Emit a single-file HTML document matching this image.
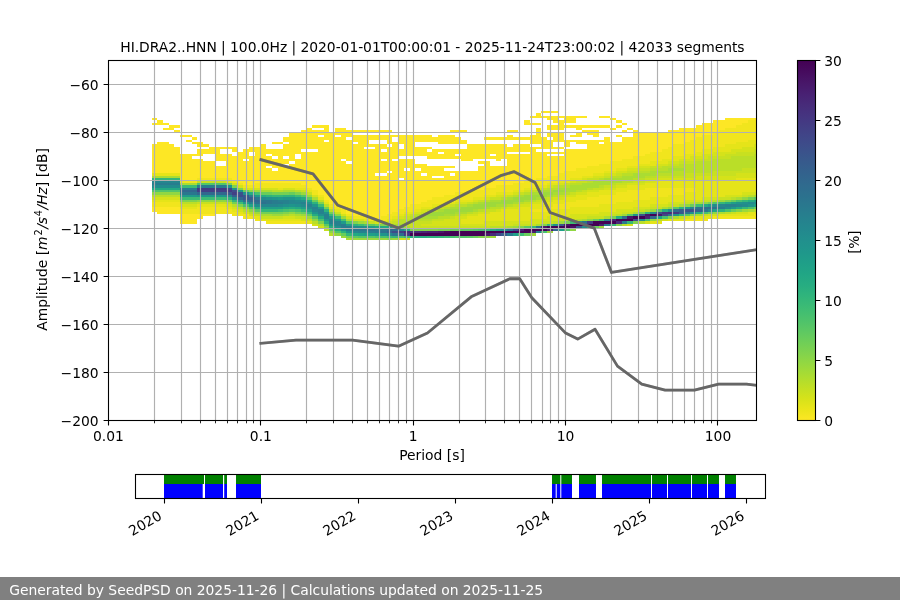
<!DOCTYPE html>
<html><head><meta charset="utf-8"><title>PPSD</title><style>html,body{margin:0;padding:0;background:#fff;overflow:hidden}body{width:900px;height:600px;position:relative}</style></head><body>
<svg width="900" height="600" viewBox="0 0 900 600" style="position:absolute;left:0;top:0;font-family:'DejaVu Sans','Liberation Sans',sans-serif;font-size:13.89px" fill="#000">
<rect width="900" height="600" fill="#fff"/>
<defs><clipPath id="c"><rect x="108.5" y="60.5" width="648" height="360"/></clipPath>
<linearGradient id="cb" x1="0" y1="0" x2="0" y2="1"><stop offset="0" stop-color="#440154"/><stop offset="0.03125" stop-color="#460b5e"/><stop offset="0.0625" stop-color="#481769"/><stop offset="0.09375" stop-color="#482173"/><stop offset="0.125" stop-color="#472c7a"/><stop offset="0.15625" stop-color="#453581"/><stop offset="0.1875" stop-color="#423f85"/><stop offset="0.21875" stop-color="#3f4889"/><stop offset="0.25" stop-color="#3b518b"/><stop offset="0.28125" stop-color="#375a8c"/><stop offset="0.3125" stop-color="#33628d"/><stop offset="0.34375" stop-color="#306a8e"/><stop offset="0.375" stop-color="#2c718e"/><stop offset="0.40625" stop-color="#29798e"/><stop offset="0.4375" stop-color="#26818e"/><stop offset="0.46875" stop-color="#23888e"/><stop offset="0.5" stop-color="#21908d"/><stop offset="0.53125" stop-color="#1f978b"/><stop offset="0.5625" stop-color="#1f9f88"/><stop offset="0.59375" stop-color="#21a685"/><stop offset="0.625" stop-color="#27ad81"/><stop offset="0.65625" stop-color="#31b57b"/><stop offset="0.6875" stop-color="#3dbc74"/><stop offset="0.71875" stop-color="#4cc26c"/><stop offset="0.75" stop-color="#5cc863"/><stop offset="0.78125" stop-color="#6ece58"/><stop offset="0.8125" stop-color="#81d34d"/><stop offset="0.84375" stop-color="#95d840"/><stop offset="0.875" stop-color="#aadc32"/><stop offset="0.90625" stop-color="#c0df25"/><stop offset="0.9375" stop-color="#d5e21a"/><stop offset="0.96875" stop-color="#eae51a"/><stop offset="1" stop-color="#fde725"/></linearGradient></defs>
<g clip-path="url(#c)" shape-rendering="crispEdges"><path fill="#fde725" d="M152 118h5v2h-5zM152 123h5v2h-5zM152 144h5v29h-5zM152 207h5v5h-5zM157 120h6v5h-6zM157 142h6v31h-6zM157 207h6v7h-6zM163 123h6v2h-6zM163 128h6v2h-6zM163 142h6v31h-6zM163 207h6v7h-6zM169 125h5v5h-5zM169 144h5v29h-5zM169 207h5v7h-5zM174 125h6v3h-6zM174 130h6v2h-6zM174 147h6v26h-6zM174 207h6v7h-6zM180 135h6v2h-6zM180 154h6v26h-6zM180 214h6v10h-6zM186 135h6v2h-6zM186 140h6v2h-6zM186 154h6v26h-6zM186 214h6v10h-6zM192 137h5v3h-5zM192 142h5v2h-5zM192 154h5v2h-5zM192 159h5v21h-5zM192 214h5v10h-5zM197 142h6v5h-6zM197 149h6v7h-6zM197 159h6v19h-6zM197 214h6v5h-6zM203 144h6v3h-6zM203 149h6v5h-6zM203 161h6v17h-6zM203 214h6v2h-6zM209 147h6v7h-6zM209 161h6v17h-6zM209 214h6v2h-6zM215 147h5v14h-5zM215 166h5v12h-5zM220 147h6v2h-6zM220 154h6v7h-6zM220 166h6v12h-6zM226 147h6v2h-6zM226 154h6v24h-6zM232 147h6v5h-6zM232 156h6v24h-6zM238 152h5v31h-5zM243 149h6v10h-6zM243 161h6v24h-6zM249 147h6v5h-6zM249 156h6v29h-6zM255 147h5v36h-5zM260 144h6v39h-6zM266 149h6v5h-6zM266 156h6v10h-6zM266 168h6v15h-6zM272 142h6v2h-6zM272 149h6v7h-6zM272 159h6v9h-6zM272 171h6v12h-6zM278 142h5v2h-5zM278 149h5v34h-5zM283 137h6v5h-6zM283 144h6v12h-6zM283 159h6v5h-6zM283 166h6v17h-6zM289 132h6v29h-6zM289 164h6v19h-6zM295 132h6v22h-6zM295 159h6v24h-6zM301 130h5v19h-5zM301 152h5v33h-5zM306 128h6v21h-6zM306 152h6v36h-6zM312 125h6v3h-6zM312 130h6v19h-6zM312 152h6v38h-6zM318 125h6v3h-6zM318 130h6v5h-6zM318 137h6v58h-6zM324 125h5v15h-5zM324 142h5v58h-5zM329 132h6v72h-6zM335 128h6v7h-6zM335 137h6v70h-6zM341 128h5v31h-5zM341 161h5v48h-5zM346 130h6v7h-6zM346 140h6v21h-6zM346 164h6v50h-6zM352 130h6v2h-6zM352 135h6v7h-6zM352 144h6v72h-6zM358 130h6v2h-6zM358 135h6v81h-6zM364 130h5v2h-5zM364 135h5v12h-5zM364 149h5v67h-5zM369 130h6v2h-6zM369 135h6v5h-6zM369 144h6v3h-6zM369 149h6v70h-6zM375 130h6v2h-6zM375 135h6v5h-6zM375 144h6v29h-6zM375 176h6v43h-6zM381 130h6v2h-6zM381 135h6v5h-6zM381 144h6v5h-6zM381 152h6v7h-6zM381 161h6v12h-6zM381 176h6v40h-6zM387 130h5v2h-5zM387 135h5v9h-5zM387 147h5v24h-5zM387 173h5v41h-5zM392 135h6v2h-6zM392 142h6v17h-6zM392 161h6v51h-6zM398 135h6v9h-6zM398 149h6v7h-6zM398 159h6v19h-6zM398 180h6v29h-6zM404 135h6v21h-6zM404 159h6v9h-6zM404 171h6v36h-6zM410 135h5v21h-5zM410 159h5v45h-5zM415 135h6v7h-6zM415 147h6v9h-6zM415 164h6v4h-6zM415 171h6v33h-6zM421 135h6v7h-6zM421 147h6v9h-6zM421 164h6v9h-6zM421 176h6v26h-6zM427 135h5v7h-5zM427 147h5v2h-5zM427 152h5v7h-5zM427 166h5v34h-5zM432 137h6v5h-6zM432 149h6v10h-6zM432 166h6v10h-6zM432 178h6v19h-6zM438 135h6v9h-6zM438 149h6v3h-6zM438 154h6v5h-6zM438 166h6v10h-6zM438 178h6v19h-6zM444 135h6v9h-6zM444 149h6v10h-6zM444 166h6v2h-6zM444 171h6v24h-6zM450 130h5v2h-5zM450 135h5v9h-5zM450 149h5v10h-5zM450 166h5v2h-5zM450 171h5v2h-5zM450 176h5v19h-5zM455 130h6v2h-6zM455 137h6v7h-6zM455 149h6v5h-6zM455 156h6v3h-6zM455 171h6v21h-6zM461 130h6v2h-6zM461 140h6v4h-6zM461 149h6v12h-6zM461 171h6v21h-6zM467 144h6v17h-6zM467 171h6v21h-6zM473 144h5v15h-5zM473 171h5v19h-5zM478 144h6v15h-6zM478 161h6v3h-6zM478 166h6v24h-6zM484 137h6v3h-6zM484 144h6v15h-6zM484 161h6v27h-6zM490 137h6v3h-6zM490 144h6v10h-6zM490 156h6v3h-6zM490 166h6v22h-6zM496 137h5v3h-5zM496 144h5v17h-5zM496 166h5v19h-5zM501 137h6v3h-6zM501 144h6v15h-6zM501 166h6v19h-6zM507 130h6v2h-6zM507 135h6v5h-6zM507 147h6v5h-6zM507 154h6v31h-6zM513 130h5v2h-5zM513 137h5v3h-5zM513 144h5v8h-5zM513 154h5v29h-5zM518 137h6v3h-6zM518 144h6v8h-6zM518 154h6v29h-6zM524 120h6v5h-6zM524 137h6v3h-6zM524 144h6v8h-6zM524 154h6v26h-6zM530 116h6v2h-6zM530 123h6v2h-6zM530 135h6v9h-6zM530 147h6v33h-6zM536 113h5v5h-5zM536 123h5v2h-5zM536 128h5v16h-5zM536 147h5v2h-5zM536 152h5v26h-5zM541 111h6v2h-6zM541 116h6v2h-6zM541 137h6v12h-6zM541 152h6v26h-6zM547 111h6v2h-6zM547 116h6v4h-6zM547 125h6v5h-6zM547 132h6v5h-6zM547 140h6v9h-6zM547 152h6v2h-6zM547 156h6v20h-6zM553 111h6v2h-6zM553 116h6v7h-6zM553 125h6v5h-6zM553 132h6v10h-6zM553 147h6v2h-6zM553 152h6v2h-6zM553 156h6v20h-6zM559 116h5v2h-5zM559 120h5v10h-5zM559 132h5v10h-5zM559 147h5v2h-5zM559 152h5v2h-5zM559 156h5v17h-5zM564 116h6v7h-6zM564 125h6v3h-6zM564 140h6v7h-6zM564 149h6v22h-6zM570 116h6v7h-6zM570 125h6v3h-6zM570 135h6v2h-6zM570 140h6v2h-6zM570 149h6v22h-6zM576 116h6v2h-6zM576 125h6v5h-6zM576 132h6v5h-6zM576 140h6v4h-6zM576 149h6v19h-6zM582 116h5v2h-5zM582 125h5v3h-5zM582 130h5v2h-5zM582 140h5v4h-5zM582 149h5v19h-5zM587 125h6v3h-6zM587 130h6v5h-6zM587 140h6v26h-6zM593 125h6v3h-6zM593 130h6v7h-6zM593 140h6v26h-6zM599 116h5v2h-5zM599 125h5v3h-5zM599 140h5v2h-5zM599 144h5v20h-5zM604 116h6v2h-6zM604 125h6v3h-6zM604 137h6v27h-6zM610 118h6v2h-6zM610 128h6v2h-6zM610 142h6v19h-6zM616 120h6v3h-6zM616 125h6v3h-6zM616 135h6v2h-6zM616 142h6v19h-6zM622 123h5v2h-5zM622 130h5v2h-5zM622 137h5v22h-5zM627 128h6v2h-6zM627 137h6v22h-6zM633 130h6v26h-6zM639 132h6v24h-6zM645 132h5v22h-5zM650 132h6v20h-6zM656 132h6v20h-6zM662 132h6v17h-6zM668 130h5v17h-5zM673 130h6v14h-6zM679 128h6v16h-6zM685 128h5v14h-5zM690 128h6v12h-6zM696 125h6v12h-6zM702 123h6v12h-6zM708 123h5v12h-5zM713 120h6v12h-6zM719 120h6v10h-6zM725 118h6v10h-6zM731 118h5v10h-5zM736 118h6v7h-6zM742 118h6v5h-6zM748 118h6v2h-6zM754 118h5v2h-5z"/><path fill="#f1e51d" d="M152 202h5v5h-5zM157 202h6v5h-6zM163 202h6v5h-6zM169 202h5v5h-5zM174 202h6v5h-6zM180 180h6v3h-6zM180 209h6v5h-6zM186 180h6v3h-6zM186 209h6v5h-6zM192 180h5v3h-5zM192 209h5v5h-5zM197 178h6v2h-6zM197 207h6v7h-6zM203 178h6v2h-6zM203 207h6v7h-6zM209 178h6v2h-6zM209 207h6v7h-6zM215 178h5v2h-5zM215 207h5v7h-5zM220 178h6v2h-6zM220 207h6v7h-6zM226 178h6v2h-6zM226 209h6v5h-6zM232 180h6v3h-6zM232 212h6v4h-6zM238 183h5v2h-5zM238 214h5v2h-5zM243 185h6v3h-6zM243 214h6v5h-6zM249 185h6v3h-6zM249 216h6v3h-6zM255 183h5v5h-5zM255 219h5v2h-5zM260 183h6v5h-6zM266 183h6v5h-6zM266 221h6v3h-6zM272 183h6v5h-6zM272 221h6v3h-6zM278 183h5v5h-5zM278 221h5v3h-5zM283 183h6v5h-6zM283 221h6v3h-6zM289 183h6v5h-6zM289 221h6v3h-6zM295 183h6v5h-6zM295 221h6v3h-6zM301 185h5v3h-5zM301 221h5v3h-5zM306 188h6v2h-6zM312 190h6v5h-6zM318 195h6v2h-6zM324 200h5v2h-5zM329 204h6v3h-6zM335 207h6v2h-6zM341 209h5v5h-5zM346 214h6v2h-6zM352 216h6v3h-6zM358 216h6v3h-6zM364 216h5v3h-5zM369 219h6v2h-6zM375 219h6v2h-6zM381 216h6v5h-6zM387 214h5v5h-5zM392 212h6v4h-6zM398 209h6v5h-6zM404 207h6v5h-6zM410 204h5v8h-5zM415 204h6v5h-6zM421 202h6v5h-6zM427 200h5v7h-5zM432 197h6v7h-6zM438 197h6v7h-6zM444 195h6v7h-6zM450 195h5v7h-5zM455 192h6v8h-6zM461 192h6v8h-6zM467 192h6v8h-6zM473 190h5v7h-5zM478 190h6v7h-6zM484 188h6v7h-6zM490 188h6v7h-6zM496 185h5v7h-5zM501 185h6v7h-6zM507 185h6v7h-6zM513 183h5v7h-5zM518 183h6v7h-6zM524 180h6v8h-6zM530 180h6v8h-6zM530 209h6v3h-6zM536 178h5v7h-5zM536 209h5v3h-5zM541 178h6v7h-6zM541 207h6v5h-6zM547 176h6v7h-6zM547 207h6v2h-6zM553 176h6v7h-6zM553 204h6v5h-6zM559 173h5v7h-5zM559 204h5v5h-5zM564 171h6v9h-6zM564 202h6v7h-6zM570 171h6v7h-6zM570 202h6v5h-6zM576 168h6v10h-6zM576 200h6v7h-6zM582 168h5v8h-5zM582 200h5v7h-5zM587 166h6v10h-6zM587 197h6v10h-6zM593 166h6v7h-6zM593 197h6v10h-6zM599 164h5v9h-5zM599 195h5v9h-5zM604 164h6v7h-6zM604 195h6v9h-6zM610 161h6v10h-6zM610 195h6v9h-6zM616 161h6v7h-6zM616 192h6v10h-6zM622 159h5v9h-5zM622 192h5v10h-5zM627 159h6v7h-6zM627 190h6v12h-6zM633 156h6v10h-6zM633 190h6v10h-6zM639 156h6v8h-6zM639 190h6v10h-6zM645 154h5v10h-5zM645 188h5v12h-5zM650 152h6v9h-6zM650 188h6v9h-6zM656 152h6v9h-6zM656 188h6v9h-6zM662 149h6v10h-6zM662 188h6v9h-6zM668 147h5v12h-5zM668 188h5v7h-5zM673 144h6v12h-6zM673 188h6v7h-6zM679 144h6v12h-6zM679 188h6v7h-6zM685 142h5v12h-5zM685 188h5v4h-5zM685 219h5v2h-5zM690 140h6v14h-6zM690 188h6v4h-6zM690 219h6v2h-6zM696 137h6v15h-6zM696 219h6v2h-6zM702 135h6v14h-6zM702 219h6v2h-6zM708 135h5v14h-5zM713 132h6v15h-6zM713 216h6v3h-6zM719 130h6v17h-6zM719 216h6v3h-6zM725 128h6v16h-6zM725 216h6v3h-6zM731 128h5v16h-5zM731 216h5v3h-5zM736 125h6v17h-6zM736 216h6v3h-6zM742 123h6v19h-6zM742 216h6v3h-6zM748 120h6v20h-6zM748 216h6v3h-6zM754 120h5v20h-5zM754 214h5v5h-5z"/><path fill="#e5e419" d="M152 173h5v3h-5zM152 200h5v2h-5zM157 173h6v3h-6zM157 200h6v2h-6zM163 173h6v3h-6zM163 200h6v2h-6zM169 173h5v3h-5zM169 200h5v2h-5zM174 173h6v3h-6zM174 200h6v2h-6zM180 207h6v2h-6zM186 207h6v2h-6zM192 207h5v2h-5zM197 204h6v3h-6zM203 204h6v3h-6zM209 204h6v3h-6zM215 204h5v3h-5zM220 204h6v3h-6zM226 180h6v3h-6zM226 207h6v2h-6zM232 209h6v3h-6zM238 212h5v2h-5zM255 216h5v3h-5zM260 219h6v2h-6zM266 219h6v2h-6zM272 219h6v2h-6zM278 188h5v2h-5zM278 219h5v2h-5zM283 219h6v2h-6zM289 219h6v2h-6zM295 188h6v2h-6zM295 219h6v2h-6zM301 188h5v2h-5zM306 190h6v2h-6zM306 221h6v3h-6zM318 197h6v3h-6zM324 202h5v2h-5zM329 207h6v2h-6zM335 209h6v3h-6zM364 219h5v2h-5zM387 219h5v2h-5zM392 216h6v3h-6zM398 214h6v2h-6zM404 212h6v2h-6zM410 212h5v2h-5zM415 209h6v3h-6zM421 207h6v2h-6zM427 207h5v2h-5zM432 204h6v3h-6zM438 204h6v3h-6zM444 202h6v2h-6zM450 202h5v2h-5zM455 200h6v2h-6zM461 200h6v2h-6zM461 219h6v5h-6zM467 200h6v2h-6zM467 216h6v8h-6zM473 197h5v3h-5zM473 216h5v8h-5zM478 197h6v3h-6zM478 214h6v10h-6zM484 195h6v2h-6zM484 214h6v7h-6zM490 195h6v2h-6zM490 212h6v9h-6zM496 192h5v3h-5zM496 212h5v9h-5zM501 192h6v3h-6zM501 209h6v12h-6zM507 192h6v3h-6zM507 209h6v12h-6zM513 190h5v2h-5zM513 209h5v12h-5zM518 190h6v2h-6zM518 207h6v14h-6zM524 188h6v2h-6zM524 207h6v14h-6zM530 188h6v2h-6zM530 204h6v5h-6zM530 212h6v7h-6zM536 185h5v3h-5zM536 204h5v5h-5zM536 212h5v7h-5zM541 185h6v3h-6zM541 202h6v5h-6zM541 212h6v7h-6zM547 183h6v2h-6zM547 202h6v5h-6zM547 209h6v7h-6zM553 183h6v2h-6zM553 200h6v4h-6zM553 209h6v7h-6zM559 180h5v3h-5zM559 200h5v4h-5zM559 209h5v7h-5zM564 180h6v3h-6zM564 197h6v5h-6zM564 209h6v7h-6zM570 178h6v2h-6zM570 197h6v5h-6zM570 207h6v7h-6zM576 178h6v2h-6zM576 195h6v5h-6zM576 207h6v7h-6zM582 176h5v2h-5zM582 195h5v5h-5zM582 207h5v7h-5zM587 176h6v2h-6zM587 192h6v5h-6zM587 207h6v7h-6zM593 173h6v3h-6zM593 192h6v5h-6zM593 207h6v7h-6zM599 173h5v3h-5zM599 190h5v5h-5zM599 204h5v8h-5zM604 171h6v2h-6zM604 190h6v5h-6zM604 204h6v8h-6zM610 171h6v2h-6zM610 190h6v5h-6zM610 204h6v8h-6zM616 168h6v3h-6zM616 188h6v4h-6zM616 202h6v7h-6zM622 168h5v3h-5zM622 188h5v4h-5zM622 202h5v7h-5zM627 166h6v2h-6zM627 185h6v5h-6zM627 202h6v7h-6zM633 166h6v2h-6zM633 185h6v5h-6zM633 200h6v7h-6zM639 164h6v2h-6zM639 185h6v5h-6zM639 200h6v7h-6zM645 164h5v2h-5zM645 183h5v5h-5zM645 200h5v7h-5zM650 161h6v5h-6zM650 183h6v5h-6zM650 197h6v7h-6zM650 221h6v3h-6zM656 161h6v3h-6zM656 180h6v8h-6zM656 197h6v7h-6zM656 221h6v3h-6zM662 159h6v5h-6zM662 180h6v8h-6zM662 197h6v7h-6zM668 159h5v2h-5zM668 180h5v8h-5zM668 195h5v7h-5zM668 219h5v2h-5zM673 156h6v5h-6zM673 180h6v8h-6zM673 195h6v7h-6zM673 219h6v2h-6zM679 156h6v3h-6zM679 180h6v8h-6zM679 195h6v7h-6zM679 219h6v2h-6zM685 154h5v5h-5zM685 180h5v8h-5zM685 192h5v8h-5zM690 154h6v2h-6zM690 180h6v8h-6zM690 192h6v8h-6zM690 216h6v3h-6zM696 152h6v4h-6zM696 180h6v20h-6zM696 216h6v3h-6zM702 149h6v5h-6zM702 180h6v17h-6zM702 216h6v3h-6zM708 149h5v5h-5zM708 180h5v17h-5zM708 216h5v3h-5zM713 147h6v5h-6zM713 180h6v17h-6zM719 147h6v5h-6zM719 180h6v17h-6zM719 214h6v2h-6zM725 144h6v8h-6zM725 180h6v15h-6zM725 214h6v2h-6zM731 144h5v5h-5zM731 180h5v15h-5zM731 214h5v2h-5zM736 142h6v7h-6zM736 178h6v17h-6zM736 214h6v2h-6zM742 142h6v5h-6zM742 178h6v14h-6zM742 214h6v2h-6zM748 140h6v7h-6zM748 178h6v14h-6zM748 212h6v4h-6zM754 140h5v4h-5zM754 178h5v14h-5zM754 212h5v2h-5z"/><path fill="#d5e21a" d="M152 197h5v3h-5zM157 197h6v3h-6zM163 197h6v3h-6zM169 197h5v3h-5zM174 197h6v3h-6zM180 204h6v3h-6zM186 204h6v3h-6zM192 204h5v3h-5zM226 204h6v3h-6zM232 183h6v2h-6zM232 207h6v2h-6zM238 185h5v3h-5zM238 209h5v3h-5zM243 188h6v2h-6zM243 212h6v2h-6zM249 188h6v2h-6zM249 214h6v2h-6zM255 188h5v2h-5zM260 188h6v2h-6zM266 188h6v2h-6zM272 188h6v2h-6zM283 188h6v2h-6zM283 216h6v3h-6zM289 188h6v2h-6zM289 216h6v3h-6zM301 219h5v2h-5zM312 195h6v2h-6zM312 224h6v2h-6zM318 226h6v2h-6zM341 214h5v2h-5zM346 216h6v3h-6zM352 219h6v2h-6zM358 219h6v2h-6zM375 221h6v3h-6zM381 221h6v3h-6zM387 221h5v3h-5zM392 219h6v2h-6zM398 216h6v3h-6zM398 238h6v2h-6zM404 214h6v2h-6zM404 238h6v2h-6zM415 212h6v2h-6zM421 209h6v3h-6zM421 224h6v2h-6zM427 224h5v2h-5zM432 207h6v2h-6zM432 221h6v5h-6zM438 221h6v5h-6zM444 204h6v3h-6zM444 219h6v7h-6zM450 219h5v7h-5zM455 202h6v2h-6zM455 216h6v10h-6zM461 202h6v2h-6zM461 216h6v3h-6zM461 224h6v2h-6zM467 214h6v2h-6zM467 224h6v2h-6zM473 200h5v2h-5zM473 214h5v2h-5zM473 224h5v2h-5zM478 212h6v2h-6zM478 224h6v2h-6zM484 197h6v3h-6zM484 212h6v2h-6zM484 221h6v5h-6zM490 221h6v5h-6zM496 195h5v2h-5zM496 209h5v3h-5zM496 221h5v5h-5zM501 195h6v2h-6zM501 221h6v5h-6zM507 207h6v2h-6zM507 221h6v5h-6zM513 192h5v3h-5zM513 207h5v2h-5zM513 221h5v3h-5zM518 204h6v3h-6zM518 221h6v3h-6zM524 190h6v2h-6zM524 204h6v3h-6zM524 221h6v3h-6zM530 202h6v2h-6zM530 219h6v5h-6zM536 188h5v2h-5zM536 202h5v2h-5zM536 219h5v5h-5zM541 200h6v2h-6zM541 219h6v2h-6zM547 185h6v3h-6zM547 200h6v2h-6zM547 216h6v5h-6zM553 197h6v3h-6zM553 216h6v5h-6zM559 183h5v2h-5zM559 197h5v3h-5zM559 216h5v3h-5zM564 195h6v2h-6zM564 216h6v3h-6zM570 180h6v3h-6zM570 195h6v2h-6zM570 214h6v5h-6zM576 192h6v3h-6zM576 214h6v5h-6zM582 178h5v2h-5zM582 192h5v3h-5zM582 214h5v5h-5zM587 190h6v2h-6zM587 214h6v2h-6zM593 176h6v2h-6zM593 190h6v2h-6zM593 214h6v2h-6zM599 176h5v2h-5zM599 212h5v4h-5zM604 173h6v3h-6zM604 188h6v2h-6zM604 212h6v4h-6zM610 173h6v3h-6zM610 188h6v2h-6zM610 212h6v2h-6zM616 171h6v2h-6zM616 185h6v3h-6zM616 209h6v5h-6zM622 171h5v2h-5zM622 185h5v3h-5zM622 209h5v3h-5zM627 168h6v3h-6zM627 183h6v2h-6zM627 209h6v3h-6zM627 224h6v2h-6zM633 168h6v3h-6zM633 183h6v2h-6zM633 207h6v5h-6zM639 166h6v2h-6zM639 183h6v2h-6zM639 207h6v2h-6zM645 166h5v2h-5zM645 180h5v3h-5zM645 207h5v2h-5zM645 221h5v3h-5zM650 180h6v3h-6zM650 204h6v3h-6zM656 164h6v2h-6zM656 178h6v2h-6zM656 204h6v3h-6zM662 164h6v2h-6zM662 178h6v2h-6zM662 204h6v3h-6zM662 219h6v2h-6zM668 161h5v3h-5zM668 178h5v2h-5zM668 202h5v2h-5zM673 161h6v3h-6zM673 178h6v2h-6zM673 202h6v2h-6zM679 159h6v2h-6zM679 178h6v2h-6zM679 202h6v2h-6zM685 159h5v2h-5zM685 178h5v2h-5zM685 200h5v2h-5zM685 216h5v3h-5zM690 156h6v5h-6zM690 178h6v2h-6zM690 200h6v2h-6zM696 156h6v3h-6zM696 176h6v4h-6zM696 200h6v2h-6zM702 154h6v5h-6zM702 176h6v4h-6zM702 197h6v3h-6zM708 154h5v2h-5zM708 176h5v4h-5zM708 197h5v3h-5zM708 214h5v2h-5zM713 152h6v4h-6zM713 176h6v4h-6zM713 197h6v3h-6zM713 214h6v2h-6zM719 152h6v4h-6zM719 176h6v4h-6zM725 152h6v2h-6zM725 176h6v4h-6zM725 195h6v2h-6zM731 149h5v5h-5zM731 176h5v4h-5zM731 195h5v2h-5zM736 149h6v3h-6zM736 173h6v5h-6zM736 195h6v2h-6zM736 212h6v2h-6zM742 147h6v5h-6zM742 173h6v5h-6zM742 192h6v3h-6zM742 212h6v2h-6zM748 147h6v5h-6zM748 173h6v5h-6zM748 192h6v3h-6zM754 144h5v5h-5zM754 173h5v5h-5zM754 192h5v3h-5z"/><path fill="#c8e020" d="M197 180h6v3h-6zM197 202h6v2h-6zM203 180h6v3h-6zM203 202h6v2h-6zM209 180h6v3h-6zM209 202h6v2h-6zM215 180h5v3h-5zM215 202h5v2h-5zM220 180h6v3h-6zM220 202h6v2h-6zM255 214h5v2h-5zM260 216h6v3h-6zM266 216h6v3h-6zM272 216h6v3h-6zM278 216h5v3h-5zM295 216h6v3h-6zM301 190h5v2h-5zM301 216h5v3h-5zM306 192h6v3h-6zM306 219h6v2h-6zM324 228h5v3h-5zM335 212h6v2h-6zM369 221h6v3h-6zM392 221h6v3h-6zM404 216h6v3h-6zM404 224h6v2h-6zM410 214h5v2h-5zM410 224h5v4h-5zM415 221h6v7h-6zM421 212h6v2h-6zM421 221h6v3h-6zM421 226h6v2h-6zM427 209h5v3h-5zM427 221h5v3h-5zM427 226h5v2h-5zM432 219h6v2h-6zM432 226h6v2h-6zM438 207h6v2h-6zM438 219h6v2h-6zM438 226h6v2h-6zM444 226h6v2h-6zM450 204h5v3h-5zM450 216h5v3h-5zM450 226h5v2h-5zM455 226h6v2h-6zM461 214h6v2h-6zM461 226h6v2h-6zM467 202h6v2h-6zM467 226h6v2h-6zM473 212h5v2h-5zM473 226h5v2h-5zM478 200h6v2h-6zM478 226h6v2h-6zM484 209h6v3h-6zM484 226h6v2h-6zM490 197h6v3h-6zM490 209h6v3h-6zM496 197h5v3h-5zM501 207h6v2h-6zM507 195h6v2h-6zM513 204h5v3h-5zM513 224h5v2h-5zM518 192h6v3h-6zM518 224h6v2h-6zM524 202h6v2h-6zM524 224h6v2h-6zM530 190h6v2h-6zM530 224h6v2h-6zM536 200h5v2h-5zM541 188h6v2h-6zM541 221h6v3h-6zM547 197h6v3h-6zM547 221h6v3h-6zM553 185h6v3h-6zM559 195h5v2h-5zM559 219h5v2h-5zM564 183h6v2h-6zM564 219h6v2h-6zM570 192h6v3h-6zM570 219h6v2h-6zM576 180h6v3h-6zM582 180h5v3h-5zM582 190h5v2h-5zM587 178h6v2h-6zM587 216h6v3h-6zM593 178h6v2h-6zM593 188h6v2h-6zM593 216h6v3h-6zM599 188h5v2h-5zM599 216h5v3h-5zM604 176h6v2h-6zM604 185h6v3h-6zM610 185h6v3h-6zM610 214h6v2h-6zM616 173h6v3h-6zM616 183h6v2h-6zM622 183h5v2h-5zM622 212h5v2h-5zM627 171h6v2h-6zM627 212h6v2h-6zM633 171h6v2h-6zM633 180h6v3h-6zM639 168h6v3h-6zM639 180h6v3h-6zM639 209h6v3h-6zM645 168h5v3h-5zM645 178h5v2h-5zM650 166h6v2h-6zM650 178h6v2h-6zM650 207h6v2h-6zM656 166h6v2h-6zM656 176h6v2h-6zM656 207h6v2h-6zM662 176h6v2h-6zM668 164h5v2h-5zM668 176h5v2h-5zM668 204h5v3h-5zM673 164h6v2h-6zM673 176h6v2h-6zM673 204h6v3h-6zM679 161h6v3h-6zM679 176h6v2h-6zM679 216h6v3h-6zM685 161h5v3h-5zM685 173h5v5h-5zM685 202h5v2h-5zM690 161h6v3h-6zM690 173h6v5h-6zM696 159h6v2h-6zM696 173h6v3h-6zM702 159h6v2h-6zM702 173h6v3h-6zM702 200h6v2h-6zM702 214h6v2h-6zM708 156h5v5h-5zM708 173h5v3h-5zM708 200h5v2h-5zM713 156h6v3h-6zM713 171h6v5h-6zM719 156h6v3h-6zM719 171h6v5h-6zM719 197h6v3h-6zM725 154h6v5h-6zM725 171h6v5h-6zM725 197h6v3h-6zM731 154h5v2h-5zM731 171h5v5h-5zM731 212h5v2h-5zM736 152h6v4h-6zM736 171h6v2h-6zM742 152h6v4h-6zM742 168h6v5h-6zM742 195h6v2h-6zM748 152h6v4h-6zM748 168h6v5h-6zM754 149h5v5h-5zM754 168h5v5h-5z"/><path fill="#bade28" d="M152 195h5v2h-5zM157 195h6v2h-6zM163 195h6v2h-6zM169 195h5v2h-5zM174 195h6v2h-6zM180 202h6v2h-6zM186 202h6v2h-6zM192 202h5v2h-5zM226 202h6v2h-6zM232 204h6v3h-6zM238 207h5v2h-5zM243 209h6v3h-6zM249 212h6v2h-6zM272 190h6v2h-6zM278 190h5v2h-5zM289 214h6v2h-6zM295 190h6v2h-6zM312 221h6v3h-6zM318 200h6v2h-6zM318 224h6v2h-6zM324 204h5v3h-5zM329 209h6v3h-6zM329 233h6v3h-6zM398 219h6v5h-6zM404 219h6v5h-6zM410 216h5v8h-5zM415 214h6v2h-6zM415 219h6v2h-6zM421 219h6v2h-6zM427 219h5v2h-5zM432 209h6v3h-6zM438 216h6v3h-6zM444 207h6v2h-6zM444 216h6v3h-6zM455 204h6v3h-6zM455 214h6v2h-6zM461 204h6v3h-6zM467 212h6v2h-6zM473 202h5v2h-5zM478 209h6v3h-6zM484 200h6v2h-6zM490 207h6v2h-6zM490 226h6v2h-6zM496 207h5v2h-5zM496 226h5v2h-5zM501 197h6v3h-6zM501 226h6v2h-6zM507 204h6v3h-6zM513 195h5v2h-5zM518 202h6v2h-6zM524 192h6v3h-6zM530 200h6v2h-6zM536 190h5v2h-5zM541 197h6v3h-6zM547 188h6v2h-6zM553 188h6v2h-6zM553 195h6v2h-6zM553 221h6v3h-6zM559 185h5v3h-5zM564 185h6v3h-6zM564 192h6v3h-6zM570 183h6v2h-6zM576 183h6v2h-6zM576 190h6v2h-6zM576 219h6v2h-6zM587 180h6v3h-6zM587 188h6v2h-6zM599 178h5v2h-5zM599 185h5v3h-5zM610 176h6v2h-6zM610 183h6v2h-6zM616 176h6v2h-6zM616 214h6v2h-6zM622 173h5v3h-5zM622 180h5v3h-5zM622 224h5v2h-5zM627 173h6v3h-6zM627 180h6v3h-6zM633 178h6v2h-6zM639 171h6v2h-6zM639 178h6v2h-6zM639 221h6v3h-6zM645 171h5v2h-5zM645 176h5v2h-5zM645 209h5v3h-5zM650 168h6v3h-6zM650 176h6v2h-6zM656 168h6v3h-6zM656 173h6v3h-6zM656 219h6v2h-6zM662 166h6v5h-6zM662 173h6v3h-6zM668 166h5v2h-5zM668 173h5v3h-5zM673 166h6v2h-6zM673 171h6v5h-6zM679 164h6v4h-6zM679 171h6v5h-6zM685 164h5v9h-5zM690 164h6v9h-6zM690 202h6v2h-6zM696 161h6v12h-6zM702 161h6v12h-6zM708 161h5v12h-5zM713 159h6v12h-6zM713 200h6v2h-6zM719 159h6v12h-6zM725 159h6v12h-6zM725 212h6v2h-6zM731 156h5v15h-5zM731 197h5v3h-5zM736 156h6v15h-6zM742 156h6v12h-6zM748 156h6v12h-6zM748 195h6v2h-6zM754 154h5v14h-5zM754 209h5v3h-5z"/><path fill="#aadc32" d="M152 176h5v2h-5zM157 176h6v2h-6zM163 176h6v2h-6zM169 176h5v2h-5zM174 176h6v2h-6zM180 183h6v2h-6zM186 183h6v2h-6zM192 183h5v2h-5zM260 190h6v2h-6zM260 214h6v2h-6zM266 190h6v2h-6zM266 214h6v2h-6zM283 190h6v2h-6zM283 214h6v2h-6zM289 190h6v2h-6zM295 214h6v2h-6zM312 197h6v3h-6zM346 219h6v2h-6zM346 238h6v2h-6zM364 221h5v3h-5zM392 224h6v2h-6zM398 224h6v2h-6zM404 226h6v2h-6zM415 216h6v3h-6zM421 214h6v5h-6zM427 212h5v2h-5zM427 216h5v3h-5zM432 216h6v3h-6zM438 209h6v3h-6zM444 214h6v2h-6zM450 207h5v2h-5zM450 214h5v2h-5zM455 207h6v2h-6zM455 212h6v2h-6zM461 212h6v2h-6zM467 204h6v3h-6zM473 209h5v3h-5zM478 202h6v2h-6zM484 207h6v2h-6zM490 200h6v2h-6zM496 200h5v2h-5zM496 204h5v3h-5zM501 204h6v3h-6zM507 197h6v3h-6zM507 226h6v2h-6zM513 202h5v2h-5zM518 195h6v2h-6zM524 200h6v2h-6zM530 192h6v3h-6zM536 192h5v3h-5zM536 197h5v3h-5zM536 224h5v2h-5zM541 190h6v2h-6zM547 190h6v2h-6zM547 195h6v2h-6zM553 192h6v3h-6zM559 188h5v2h-5zM559 192h5v3h-5zM564 188h6v4h-6zM570 185h6v7h-6zM576 185h6v5h-6zM582 183h5v7h-5zM582 219h5v2h-5zM587 183h6v5h-6zM593 180h6v8h-6zM599 180h5v5h-5zM604 178h6v7h-6zM604 216h6v3h-6zM610 178h6v5h-6zM616 178h6v5h-6zM622 176h5v4h-5zM627 176h6v4h-6zM633 173h6v5h-6zM633 212h6v2h-6zM639 173h6v5h-6zM645 173h5v3h-5zM650 171h6v5h-6zM656 171h6v2h-6zM662 171h6v2h-6zM662 207h6v2h-6zM668 168h5v5h-5zM673 168h6v3h-6zM673 216h6v3h-6zM679 168h6v3h-6zM679 204h6v3h-6zM696 202h6v2h-6zM696 214h6v2h-6zM719 212h6v2h-6zM736 197h6v3h-6zM748 209h6v3h-6zM754 195h5v2h-5z"/><path fill="#9dd93b" d="M255 190h5v2h-5zM255 212h5v2h-5zM272 214h6v2h-6zM278 214h5v2h-5zM301 192h5v3h-5zM301 214h5v2h-5zM306 195h6v2h-6zM306 216h6v3h-6zM341 216h5v3h-5zM341 236h5v2h-5zM352 238h6v2h-6zM358 221h6v3h-6zM358 238h6v2h-6zM364 238h5v2h-5zM369 238h6v2h-6zM375 238h6v2h-6zM381 238h6v2h-6zM392 238h6v2h-6zM427 214h5v2h-5zM432 212h6v4h-6zM438 212h6v4h-6zM444 209h6v5h-6zM450 209h5v5h-5zM455 209h6v3h-6zM461 207h6v5h-6zM467 207h6v5h-6zM473 204h5v5h-5zM478 204h6v5h-6zM484 202h6v5h-6zM490 202h6v5h-6zM490 236h6v2h-6zM496 202h5v2h-5zM501 200h6v4h-6zM507 200h6v4h-6zM513 197h5v5h-5zM513 226h5v2h-5zM518 197h6v5h-6zM524 195h6v5h-6zM530 195h6v5h-6zM530 233h6v3h-6zM536 195h5v2h-5zM541 192h6v5h-6zM547 192h6v3h-6zM547 231h6v2h-6zM553 190h6v2h-6zM559 190h5v2h-5zM559 221h5v3h-5zM599 226h5v2h-5zM622 214h5v2h-5zM650 209h6v3h-6zM719 200h6v2h-6zM742 209h6v3h-6z"/><path fill="#90d743" d="M152 192h5v3h-5zM157 192h6v3h-6zM163 192h6v3h-6zM169 192h5v3h-5zM174 192h6v3h-6zM197 200h6v2h-6zM203 200h6v2h-6zM209 200h6v2h-6zM215 200h5v2h-5zM220 200h6v2h-6zM243 207h6v2h-6zM249 190h6v2h-6zM249 209h6v3h-6zM289 212h6v2h-6zM312 219h6v2h-6zM324 226h5v2h-5zM329 231h6v2h-6zM335 214h6v2h-6zM335 233h6v3h-6zM387 224h5v2h-5zM387 238h5v2h-5zM484 236h6v2h-6zM570 228h6v3h-6zM587 219h6v2h-6zM650 219h6v2h-6zM668 207h5v2h-5zM685 204h5v3h-5zM690 214h6v2h-6zM702 202h6v2h-6zM713 212h6v2h-6zM742 197h6v3h-6z"/><path fill="#81d34d" d="M180 200h6v2h-6zM186 200h6v2h-6zM192 200h5v2h-5zM226 183h6v2h-6zM232 185h6v3h-6zM238 188h5v2h-5zM238 204h5v3h-5zM283 212h6v2h-6zM295 192h6v3h-6zM318 202h6v2h-6zM318 221h6v3h-6zM352 221h6v3h-6zM381 224h6v2h-6zM410 228h5v3h-5zM415 228h6v3h-6zM421 228h6v3h-6zM427 228h5v3h-5zM432 228h6v3h-6zM478 236h6v2h-6zM518 226h6v2h-6zM541 224h6v2h-6zM616 224h6v2h-6zM633 221h6v3h-6zM668 216h5v3h-5zM725 200h6v2h-6zM736 209h6v3h-6z"/><path fill="#75d054" d="M226 200h6v2h-6zM232 202h6v2h-6zM260 212h6v2h-6zM266 212h6v2h-6zM272 192h6v3h-6zM272 212h6v2h-6zM278 192h5v3h-5zM278 212h5v2h-5zM283 192h6v3h-6zM295 212h6v2h-6zM324 207h5v2h-5zM329 212h6v2h-6zM346 236h6v2h-6zM375 224h6v2h-6zM438 228h6v3h-6zM444 228h6v3h-6zM564 221h6v3h-6zM610 216h6v3h-6zM639 212h6v2h-6zM708 202h5v2h-5zM748 197h6v3h-6z"/><path fill="#69cd5b" d="M243 190h6v2h-6zM260 192h6v3h-6zM266 192h6v3h-6zM289 192h6v3h-6zM301 212h5v2h-5zM306 214h6v2h-6zM312 200h6v2h-6zM341 233h5v3h-5zM398 226h6v2h-6zM450 228h5v3h-5zM455 228h6v3h-6zM473 236h5v2h-5zM524 233h6v3h-6zM593 219h6v2h-6zM593 226h6v2h-6zM690 204h6v3h-6zM708 212h5v2h-5zM731 200h5v2h-5zM731 209h5v3h-5zM754 207h5v2h-5z"/><path fill="#5cc863" d="M255 209h5v3h-5zM306 197h6v3h-6zM312 216h6v3h-6zM324 224h5v2h-5zM329 228h6v3h-6zM352 236h6v2h-6zM369 224h6v2h-6zM461 228h6v3h-6zM467 228h6v3h-6zM467 236h6v2h-6zM524 226h6v2h-6zM656 209h6v3h-6zM673 207h6v2h-6zM685 214h5v2h-5zM754 197h5v3h-5z"/><path fill="#52c569" d="M152 190h5v2h-5zM157 190h6v2h-6zM163 190h6v2h-6zM169 190h5v2h-5zM174 190h6v2h-6zM197 183h6v2h-6zM203 183h6v2h-6zM209 183h6v2h-6zM215 183h5v2h-5zM220 183h6v2h-6zM249 207h6v2h-6zM289 209h6v3h-6zM301 195h5v2h-5zM335 231h6v2h-6zM346 221h6v3h-6zM358 236h6v2h-6zM364 224h5v2h-5zM364 236h5v2h-5zM369 236h6v2h-6zM398 236h6v2h-6zM455 236h6v2h-6zM461 236h6v2h-6zM473 228h5v3h-5zM564 228h6v3h-6zM627 214h6v2h-6zM713 202h6v2h-6z"/><path fill="#48c16e" d="M243 204h6v3h-6zM255 192h5v3h-5zM283 209h6v3h-6zM295 209h6v3h-6zM318 219h6v2h-6zM341 219h5v2h-5zM375 236h6v2h-6zM381 236h6v2h-6zM450 236h5v2h-5zM478 228h6v3h-6zM541 231h6v2h-6zM645 219h5v2h-5zM662 216h6v3h-6zM702 212h6v2h-6zM725 209h6v3h-6zM736 200h6v2h-6zM748 207h6v2h-6z"/><path fill="#3dbc74" d="M180 185h6v3h-6zM180 197h6v3h-6zM186 185h6v3h-6zM186 197h6v3h-6zM192 185h5v3h-5zM192 197h5v3h-5zM197 197h6v3h-6zM203 197h6v3h-6zM209 197h6v3h-6zM215 197h5v3h-5zM220 197h6v3h-6zM238 202h5v2h-5zM278 209h5v3h-5zM295 195h6v2h-6zM318 204h6v3h-6zM335 216h6v3h-6zM358 224h6v2h-6zM387 236h5v2h-5zM392 226h6v2h-6zM404 236h6v2h-6zM444 236h6v2h-6zM518 233h6v3h-6zM570 221h6v3h-6zM599 219h5v2h-5zM696 204h6v3h-6z"/><path fill="#35b779" d="M152 178h5v2h-5zM157 178h6v2h-6zM163 178h6v2h-6zM169 178h5v2h-5zM174 178h6v2h-6zM232 200h6v2h-6zM260 209h6v3h-6zM266 209h6v3h-6zM272 195h6v2h-6zM272 209h6v3h-6zM278 195h5v2h-5zM301 209h5v3h-5zM306 212h6v2h-6zM329 214h6v2h-6zM346 233h6v3h-6zM392 236h6v2h-6zM438 236h6v2h-6zM484 228h6v3h-6zM530 226h6v2h-6zM547 224h6v2h-6zM610 224h6v2h-6zM627 221h6v3h-6zM679 214h6v2h-6zM719 202h6v2h-6zM742 200h6v2h-6zM742 207h6v2h-6z"/><path fill="#2eb37c" d="M226 197h6v3h-6zM266 195h6v2h-6zM283 195h6v2h-6zM289 195h6v2h-6zM312 202h6v2h-6zM324 209h5v3h-5zM341 231h5v2h-5zM352 224h6v2h-6zM427 236h5v2h-5zM432 236h6v2h-6zM587 226h6v2h-6zM645 212h5v2h-5zM679 207h6v2h-6zM719 209h6v3h-6z"/><path fill="#27ad81" d="M249 192h6v3h-6zM255 207h5v2h-5zM260 195h6v2h-6zM289 207h6v2h-6zM312 214h6v2h-6zM324 221h5v3h-5zM329 226h6v2h-6zM335 228h6v3h-6zM410 236h5v2h-5zM415 236h6v2h-6zM421 236h6v2h-6zM490 228h6v3h-6zM616 216h6v3h-6zM662 209h6v3h-6zM696 212h6v2h-6zM725 202h6v2h-6zM748 200h6v2h-6z"/><path fill="#23a983" d="M152 188h5v2h-5zM157 188h6v2h-6zM163 188h6v2h-6zM169 188h5v2h-5zM174 188h6v2h-6zM283 207h6v2h-6zM295 207h6v2h-6zM301 197h5v3h-5zM306 200h6v2h-6zM318 216h6v3h-6zM352 233h6v3h-6zM381 226h6v2h-6zM387 226h5v2h-5zM404 228h6v3h-6zM702 204h6v3h-6zM736 207h6v2h-6z"/><path fill="#20a486" d="M249 204h6v3h-6zM358 233h6v3h-6zM375 226h6v2h-6zM713 209h6v3h-6zM754 200h5v2h-5zM754 204h5v3h-5z"/><path fill="#1f9f88" d="M260 207h6v2h-6zM266 207h6v2h-6zM272 207h6v2h-6zM278 207h5v2h-5zM295 197h6v3h-6zM301 207h5v2h-5zM306 209h6v3h-6zM364 233h5v3h-5zM369 233h6v3h-6zM496 228h5v3h-5zM513 233h5v3h-5zM559 228h5v3h-5zM656 216h6v3h-6zM731 202h5v2h-5z"/><path fill="#1f9a8a" d="M180 195h6v2h-6zM186 195h6v2h-6zM192 195h5v2h-5zM243 202h6v2h-6zM255 195h5v2h-5zM278 197h5v3h-5zM318 207h6v2h-6zM335 219h6v2h-6zM341 221h5v3h-5zM346 224h6v2h-6zM369 226h6v2h-6zM375 233h6v3h-6zM576 221h6v3h-6zM685 207h5v2h-5zM708 204h5v3h-5zM731 207h5v2h-5z"/><path fill="#1f958b" d="M197 195h6v2h-6zM203 195h6v2h-6zM209 195h6v2h-6zM215 195h5v2h-5zM220 195h6v2h-6zM226 185h6v3h-6zM232 188h6v2h-6zM238 190h5v2h-5zM272 197h6v3h-6zM283 197h6v3h-6zM289 197h6v3h-6zM289 204h6v3h-6zM312 204h6v3h-6zM312 212h6v2h-6zM324 219h5v2h-5zM329 216h6v3h-6zM329 224h6v2h-6zM341 228h5v3h-5zM346 231h6v2h-6zM381 233h6v3h-6zM501 228h6v3h-6zM633 214h6v2h-6zM673 214h6v2h-6zM736 202h6v2h-6zM748 204h6v3h-6z"/><path fill="#21908d" d="M238 200h5v2h-5zM243 192h6v3h-6zM266 197h6v3h-6zM283 204h6v3h-6zM295 204h6v3h-6zM301 200h5v2h-5zM306 202h6v2h-6zM318 214h6v2h-6zM324 212h5v2h-5zM335 226h6v2h-6zM364 226h5v2h-5zM553 224h6v2h-6zM639 219h6v2h-6zM690 212h6v2h-6zM742 202h6v2h-6zM754 202h5v2h-5z"/><path fill="#228b8d" d="M152 185h5v3h-5zM157 185h6v3h-6zM163 185h6v3h-6zM169 185h5v3h-5zM174 185h6v3h-6zM232 197h6v3h-6zM255 204h5v3h-5zM260 197h6v3h-6zM278 204h5v3h-5zM295 200h6v2h-6zM301 204h5v3h-5zM306 207h6v2h-6zM352 226h6v2h-6zM358 226h6v2h-6zM582 226h5v2h-5zM668 209h5v3h-5zM708 209h5v3h-5zM713 204h6v3h-6zM725 207h6v2h-6zM742 204h6v3h-6zM748 202h6v2h-6z"/><path fill="#24868e" d="M152 180h5v3h-5zM157 180h6v3h-6zM163 180h6v3h-6zM169 180h5v3h-5zM174 180h6v3h-6zM226 195h6v2h-6zM260 204h6v3h-6zM266 204h6v3h-6zM272 204h6v3h-6zM289 200h6v4h-6zM295 202h6v2h-6zM312 209h6v3h-6zM352 231h6v2h-6zM387 233h5v3h-5zM398 228h6v3h-6zM650 212h6v2h-6zM719 204h6v3h-6zM736 204h6v3h-6z"/><path fill="#26818e" d="M249 202h6v2h-6zM278 200h5v2h-5zM283 200h6v4h-6zM301 202h5v2h-5zM306 204h6v3h-6zM312 207h6v2h-6zM318 209h6v5h-6zM324 214h5v5h-5zM329 219h6v5h-6zM335 221h6v5h-6zM358 231h6v2h-6zM364 231h5v2h-5zM536 231h5v2h-5zM690 207h6v2h-6zM725 204h6v3h-6zM731 204h5v3h-5z"/><path fill="#287c8e" d="M152 183h5v2h-5zM157 183h6v2h-6zM163 183h6v2h-6zM169 183h5v2h-5zM174 183h6v2h-6zM180 188h6v2h-6zM186 188h6v2h-6zM192 188h5v2h-5zM197 185h6v3h-6zM203 185h6v3h-6zM209 185h6v3h-6zM215 185h5v3h-5zM220 185h6v3h-6zM249 195h6v2h-6zM272 200h6v4h-6zM278 202h5v2h-5zM341 224h5v4h-5zM346 226h6v5h-6zM369 231h6v2h-6zM507 233h6v3h-6zM604 219h6v2h-6zM604 224h6v2h-6zM622 221h5v3h-5zM719 207h6v2h-6z"/><path fill="#2a778e" d="M180 192h6v3h-6zM186 192h6v3h-6zM192 192h5v3h-5zM255 197h5v3h-5zM260 200h6v2h-6zM266 200h6v4h-6zM352 228h6v3h-6zM358 228h6v3h-6zM364 228h5v3h-5zM375 228h6v5h-6zM381 228h6v3h-6zM392 233h6v3h-6zM507 228h6v3h-6zM536 226h5v2h-5zM685 212h5v2h-5zM702 209h6v3h-6z"/><path fill="#2c718e" d="M243 200h6v2h-6zM255 202h5v2h-5zM260 202h6v2h-6zM369 228h6v3h-6zM381 231h6v2h-6zM392 228h6v3h-6zM582 221h5v3h-5zM668 214h5v2h-5zM696 207h6v2h-6zM713 207h6v2h-6z"/><path fill="#2e6d8e" d="M387 228h5v3h-5zM398 233h6v3h-6zM622 216h5v3h-5zM673 209h6v3h-6zM702 207h6v2h-6zM708 207h5v2h-5z"/><path fill="#31688e" d="M180 190h6v2h-6zM186 190h6v2h-6zM192 190h5v2h-5zM197 192h6v3h-6zM203 192h6v3h-6zM209 192h6v3h-6zM215 192h5v3h-5zM220 192h6v3h-6zM238 197h5v3h-5zM249 200h6v2h-6zM255 200h5v2h-5zM553 228h6v3h-6zM650 216h6v3h-6z"/><path fill="#33628d" d="M387 231h5v2h-5zM696 209h6v3h-6z"/><path fill="#365d8d" d="M232 195h6v2h-6zM249 197h6v3h-6zM501 233h6v3h-6zM576 226h6v2h-6zM679 209h6v3h-6z"/><path fill="#38588c" d="M226 192h6v3h-6zM243 195h6v5h-6zM559 224h5v2h-5zM639 214h6v2h-6zM679 212h6v2h-6z"/><path fill="#3b518b" d="M238 192h5v3h-5zM513 228h5v3h-5zM656 212h6v2h-6zM685 209h5v3h-5zM690 209h6v3h-6z"/><path fill="#3e4c8a" d="M232 190h6v2h-6zM238 195h5v2h-5zM392 231h6v2h-6zM633 219h6v2h-6z"/><path fill="#404688" d="M226 188h6v2h-6zM496 233h5v3h-5zM662 214h6v2h-6z"/><path fill="#423f85" d="M197 190h6v2h-6zM203 190h6v2h-6zM209 190h6v2h-6zM215 190h5v2h-5zM220 190h6v2h-6zM232 192h6v3h-6zM398 231h6v2h-6z"/><path fill="#443983" d="M197 188h6v2h-6zM203 188h6v2h-6zM209 188h6v2h-6zM215 188h5v2h-5zM220 188h6v2h-6zM226 190h6v2h-6zM404 233h6v3h-6zM587 221h6v3h-6zM673 212h6v2h-6z"/><path fill="#46337f" d="M662 212h6v2h-6z"/><path fill="#472c7a" d="M404 231h6v2h-6zM410 231h5v2h-5zM415 231h6v2h-6zM490 233h6v3h-6zM616 221h6v3h-6zM668 212h5v2h-5z"/><path fill="#482576" d="M421 231h6v2h-6zM610 219h6v2h-6zM645 216h5v3h-5z"/><path fill="#481f70" d="M427 231h5v2h-5zM432 231h6v2h-6zM518 228h6v3h-6zM530 231h6v2h-6zM547 228h6v3h-6zM599 224h5v2h-5z"/><path fill="#481769" d="M438 231h6v2h-6zM484 233h6v3h-6zM541 226h6v2h-6zM627 216h6v3h-6zM645 214h5v2h-5zM656 214h6v2h-6z"/><path fill="#471063" d="M564 224h6v2h-6zM570 226h6v2h-6z"/><path fill="#46085c" d="M444 231h6v2h-6z"/><path fill="#440154" d="M410 233h5v3h-5zM415 233h6v3h-6zM421 233h6v3h-6zM427 233h5v3h-5zM432 233h6v3h-6zM438 233h6v3h-6zM444 233h6v3h-6zM450 231h5v5h-5zM455 231h6v5h-6zM461 231h6v5h-6zM467 231h6v5h-6zM473 231h5v5h-5zM478 231h6v5h-6zM484 231h6v2h-6zM490 231h6v2h-6zM496 231h5v2h-5zM501 231h6v2h-6zM507 231h6v2h-6zM513 231h5v2h-5zM518 231h6v2h-6zM524 228h6v5h-6zM530 228h6v3h-6zM536 228h5v3h-5zM541 228h6v3h-6zM547 226h6v2h-6zM553 226h6v2h-6zM559 226h5v2h-5zM564 226h6v2h-6zM570 224h6v2h-6zM576 224h6v2h-6zM582 224h5v2h-5zM587 224h6v2h-6zM593 221h6v5h-6zM599 221h5v3h-5zM604 221h6v3h-6zM610 221h6v3h-6zM616 219h6v2h-6zM622 219h5v2h-5zM627 219h6v2h-6zM633 216h6v3h-6zM639 216h6v3h-6zM650 214h6v2h-6z"/></g>
<path d="M154.5 60.5V420.5M181.5 60.5V420.5M200.5 60.5V420.5M215.5 60.5V420.5M227.5 60.5V420.5M237.5 60.5V420.5M246.5 60.5V420.5M253.5 60.5V420.5M260.5 60.5V420.5M306.5 60.5V420.5M333.5 60.5V420.5M352.5 60.5V420.5M367.5 60.5V420.5M379.5 60.5V420.5M389.5 60.5V420.5M398.5 60.5V420.5M406.5 60.5V420.5M413.5 60.5V420.5M459.5 60.5V420.5M485.5 60.5V420.5M504.5 60.5V420.5M519.5 60.5V420.5M531.5 60.5V420.5M542.5 60.5V420.5M550.5 60.5V420.5M558.5 60.5V420.5M565.5 60.5V420.5M611.5 60.5V420.5M638.5 60.5V420.5M657.5 60.5V420.5M672.5 60.5V420.5M684.5 60.5V420.5M694.5 60.5V420.5M703.5 60.5V420.5M711.5 60.5V420.5M717.5 60.5V420.5M108.5 372.5H756.5M108.5 324.5H756.5M108.5 276.5H756.5M108.5 228.5H756.5M108.5 180.5H756.5M108.5 132.5H756.5M108.5 84.5H756.5" stroke="#b0b0b0" stroke-width="1.1" fill="none"/>
<path d="M154.5 60.5V420.5M181.5 60.5V420.5M200.5 60.5V420.5M215.5 60.5V420.5M227.5 60.5V420.5M237.5 60.5V420.5M246.5 60.5V420.5M253.5 60.5V420.5M260.5 60.5V420.5M306.5 60.5V420.5M333.5 60.5V420.5M352.5 60.5V420.5M367.5 60.5V420.5M379.5 60.5V420.5M389.5 60.5V420.5M398.5 60.5V420.5M406.5 60.5V420.5M413.5 60.5V420.5M459.5 60.5V420.5M485.5 60.5V420.5M504.5 60.5V420.5M519.5 60.5V420.5M531.5 60.5V420.5M542.5 60.5V420.5M550.5 60.5V420.5M558.5 60.5V420.5M565.5 60.5V420.5M611.5 60.5V420.5M638.5 60.5V420.5M657.5 60.5V420.5M672.5 60.5V420.5M684.5 60.5V420.5M694.5 60.5V420.5M703.5 60.5V420.5M711.5 60.5V420.5M717.5 60.5V420.5M108.5 372.5H756.5M108.5 324.5H756.5M108.5 276.5H756.5M108.5 228.5H756.5M108.5 180.5H756.5M108.5 132.5H756.5M108.5 84.5H756.5" stroke="#b0b0b0" stroke-width="1.1" fill="none" opacity="0.5" style="mix-blend-mode:luminosity"/>
<polyline clip-path="url(#c)" points="260.87,160.10 313.04,174.27 337.84,205.70 398.47,228.50 501.58,175.69 514.22,172.09 535.03,182.90 550.01,212.89 594.18,228.51 611.47,272.89 801.77,242.91" fill="none" stroke="#666" stroke-width="2.78" stroke-linejoin="round" stroke-linecap="square" transform="translate(0,-0.4)"/>
<polyline clip-path="url(#c)" points="260.87,160.10 313.04,174.27 337.84,205.70 398.47,228.50 501.58,175.69 514.22,172.09 535.03,182.90 550.01,212.89 594.18,228.51 611.47,272.89 801.77,242.91" fill="none" stroke="#666" stroke-width="2.78" stroke-linejoin="round" stroke-linecap="square" transform="translate(0,-0.4)" opacity="0.3" style="mix-blend-mode:luminosity"/>
<polyline clip-path="url(#c)" points="260.87,343.70 295.98,340.58 352.60,340.57 398.47,346.58 427.47,333.37 471.17,297.25 509.76,279.14 519.74,279.13 531.80,298.10 565.60,333.50 577.67,339.49 595.03,329.61 617.48,366.51 641.74,384.49 665.13,390.50 694.37,390.50 718.63,384.50 746.55,384.47 796.58,390.48" fill="none" stroke="#666" stroke-width="2.78" stroke-linejoin="round" stroke-linecap="square" transform="translate(0,-0.4)"/>
<polyline clip-path="url(#c)" points="260.87,343.70 295.98,340.58 352.60,340.57 398.47,346.58 427.47,333.37 471.17,297.25 509.76,279.14 519.74,279.13 531.80,298.10 565.60,333.50 577.67,339.49 595.03,329.61 617.48,366.51 641.74,384.49 665.13,390.50 694.37,390.50 718.63,384.50 746.55,384.47 796.58,390.48" fill="none" stroke="#666" stroke-width="2.78" stroke-linejoin="round" stroke-linecap="square" transform="translate(0,-0.4)" opacity="0.3" style="mix-blend-mode:luminosity"/>
<rect x="108.5" y="60.5" width="648" height="360" fill="none" stroke="#000" stroke-width="1.1"/>
<path d="M108.5 420.5v4.9M260.5 420.5v4.9M413.5 420.5v4.9M565.5 420.5v4.9M717.5 420.5v4.9M108.5 420.5h-4.9M108.5 372.5h-4.9M108.5 324.5h-4.9M108.5 276.5h-4.9M108.5 228.5h-4.9M108.5 180.5h-4.9M108.5 132.5h-4.9M108.5 84.5h-4.9" stroke="#000" stroke-width="1.1" fill="none"/>
<path d="M154.5 420.5v2.8M181.5 420.5v2.8M200.5 420.5v2.8M215.5 420.5v2.8M227.5 420.5v2.8M237.5 420.5v2.8M246.5 420.5v2.8M253.5 420.5v2.8M306.5 420.5v2.8M333.5 420.5v2.8M352.5 420.5v2.8M367.5 420.5v2.8M379.5 420.5v2.8M389.5 420.5v2.8M398.5 420.5v2.8M406.5 420.5v2.8M459.5 420.5v2.8M485.5 420.5v2.8M504.5 420.5v2.8M519.5 420.5v2.8M531.5 420.5v2.8M542.5 420.5v2.8M550.5 420.5v2.8M558.5 420.5v2.8M611.5 420.5v2.8M638.5 420.5v2.8M657.5 420.5v2.8M672.5 420.5v2.8M684.5 420.5v2.8M694.5 420.5v2.8M703.5 420.5v2.8M711.5 420.5v2.8" stroke="#000" stroke-width="0.85" fill="none"/>
<text x="108.5" y="440.5" text-anchor="middle">0.01</text>
<text x="260.9" y="440.5" text-anchor="middle">0.1</text>
<text x="413.2" y="440.5" text-anchor="middle">1</text>
<text x="565.6" y="440.5" text-anchor="middle">10</text>
<text x="718.0" y="440.5" text-anchor="middle">100</text>
<text x="98.7" y="425.7" text-anchor="end">−200</text>
<text x="98.7" y="377.7" text-anchor="end">−180</text>
<text x="98.7" y="329.7" text-anchor="end">−160</text>
<text x="98.7" y="281.7" text-anchor="end">−140</text>
<text x="98.7" y="233.7" text-anchor="end">−120</text>
<text x="98.7" y="185.7" text-anchor="end">−100</text>
<text x="98.7" y="137.7" text-anchor="end">−80</text>
<text x="98.7" y="89.7" text-anchor="end">−60</text>
<text x="432" y="460" text-anchor="middle">Period [s]</text>
<text transform="translate(47,239.5) rotate(-90)" text-anchor="middle">Amplitude [<tspan font-style="italic">m</tspan><tspan font-size="9.7px" dy="-5" dx="0.8">2</tspan><tspan dy="5" dx="0.6" font-style="italic">/s</tspan><tspan font-size="9.7px" dy="-5" dx="0.6">4</tspan><tspan dy="5" dx="0.6" font-style="italic">/Hz</tspan>] [dB]</text>
<text x="432.4" y="52" text-anchor="middle" textLength="624.3" lengthAdjust="spacing">HI.DRA2..HNN | 100.0Hz | 2020-01-01T00:00:01 - 2025-11-24T23:00:02 | 42033 segments</text>
<rect x="797.5" y="60.5" width="18" height="360" fill="url(#cb)" stroke="#000" stroke-width="1.1"/>
<text x="824.2" y="425.7">0</text>
<text x="824.2" y="365.7">5</text>
<text x="824.2" y="305.7">10</text>
<text x="824.2" y="245.7">15</text>
<text x="824.2" y="185.7">20</text>
<text x="824.2" y="125.7">25</text>
<text x="824.2" y="65.7">30</text>
<path d="M815.5 420.5h4.9M815.5 360.5h4.9M815.5 300.5h4.9M815.5 240.5h4.9M815.5 180.5h4.9M815.5 120.5h4.9M815.5 60.5h4.9" stroke="#000" stroke-width="1.1" fill="none"/>
<text transform="translate(859,242.4) rotate(-90)" text-anchor="middle" letter-spacing="-0.5">[%]</text>
<rect x="164" y="475" width="63" height="9" fill="#008000"/><rect x="164" y="484" width="63" height="14" fill="#0000ff"/><rect x="236" y="475" width="25" height="9" fill="#008000"/><rect x="236" y="484" width="25" height="14" fill="#0000ff"/><rect x="552" y="475" width="20" height="9" fill="#008000"/><rect x="552" y="484" width="20" height="14" fill="#0000ff"/><rect x="579" y="475" width="17" height="9" fill="#008000"/><rect x="579" y="484" width="17" height="14" fill="#0000ff"/><rect x="602" y="475" width="117" height="9" fill="#008000"/><rect x="602" y="484" width="117" height="14" fill="#0000ff"/><rect x="725" y="475" width="11" height="9" fill="#008000"/><rect x="725" y="484" width="11" height="14" fill="#0000ff"/><rect x="204" y="475" width="1" height="9" fill="#fff"/><rect x="202.7" y="484" width="2.3" height="14" fill="#fff"/><rect x="223" y="475" width="1.2" height="9" fill="#fff"/><rect x="223" y="484" width="1.2" height="14" fill="#fff"/><rect x="555.7" y="484" width="1" height="14" fill="#fff"/><rect x="560.3" y="475" width="1" height="9" fill="#fff"/><rect x="560.3" y="484" width="1" height="14" fill="#fff"/><rect x="651" y="475" width="1" height="9" fill="#fff"/><rect x="651" y="484" width="1" height="14" fill="#fff"/><rect x="667" y="475" width="1" height="9" fill="#fff"/><rect x="667" y="484" width="1" height="14" fill="#fff"/><rect x="691" y="475" width="1" height="9" fill="#fff"/><rect x="691" y="484" width="1" height="14" fill="#fff"/><rect x="707" y="475" width="1" height="9" fill="#fff"/><rect x="707" y="484" width="1" height="14" fill="#fff"/>
<rect x="135.5" y="474.5" width="630" height="24" fill="none" stroke="#000" stroke-width="1.1"/>
<text transform="translate(162.9,518.5) rotate(-30)" text-anchor="end">2020</text>
<text transform="translate(260.0,518.5) rotate(-30)" text-anchor="end">2021</text>
<text transform="translate(357.0,518.5) rotate(-30)" text-anchor="end">2022</text>
<text transform="translate(454.1,518.5) rotate(-30)" text-anchor="end">2023</text>
<text transform="translate(551.2,518.5) rotate(-30)" text-anchor="end">2024</text>
<text transform="translate(648.2,518.5) rotate(-30)" text-anchor="end">2025</text>
<text transform="translate(745.3,518.5) rotate(-30)" text-anchor="end">2026</text>
<path d="M164.5 498.5v4.9M261.5 498.5v4.9M358.5 498.5v4.9M455.5 498.5v4.9M552.5 498.5v4.9M649.5 498.5v4.9M746.5 498.5v4.9" stroke="#000" stroke-width="1.1" fill="none"/>
<rect x="0" y="577" width="900" height="23" fill="#808080"/>
<text x="9.2" y="595" fill="#fff" font-size="13.89px" textLength="534" lengthAdjust="spacing">Generated by SeedPSD on 2025-11-26 | Calculations updated on 2025-11-25</text>
</svg>
</body></html>
